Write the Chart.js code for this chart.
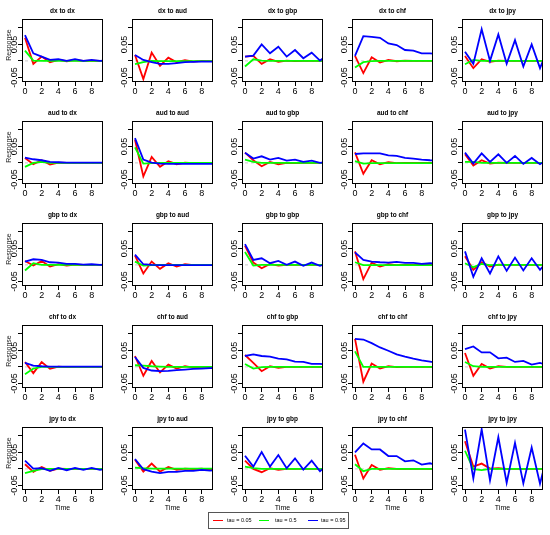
<!DOCTYPE html>
<html lang="en">
<head>
    <meta charset="UTF-8">
    <title>Quantile IRF grid</title>
    <script src="https://cdn.jsdelivr.net/npm/chart.js"></script>
    <style type="text/css">
        body {
            margin: 0;
            background: #fff;
            font-family: "Liberation Sans", Arial, sans-serif;
        }

        #page {
            position: relative;
            width: 550px;
            height: 535px;
            overflow: hidden;
        }

        canvas {
            position: absolute;
        }

        .ttl, .lab {
            position: absolute;
            transform: translate(-50%, -50%);
            white-space: nowrap;
            color: #000;
        }

        .ttl {
            font-weight: bold;
            font-size: 6.5px;
        }

        .lab {
            font-size: 7px;
        }

        .ylab {
            transform: translate(-50%, -50%) rotate(-90deg);
            font-size: 7px;
            color: #222;
        }

        #legend {
            position: absolute;
            left: 208px;
            top: 512px;
            width: 139px;
            height: 15px;
            border: 1px solid #555;
            font-size: 5.5px;
            line-height: 15px;
        }

        #legend span {
            position: absolute;
        }

        #legend .ln {
            top: 7px;
            width: 10px;
            height: 1px;
        }
    </style>
</head>
<body>
<div id="page"></div>

<script>
  // variables, in the order of the grid (rows = shock, columns = response)
  var vars = ['dx', 'aud', 'gbp', 'chf', 'jpy'];
  var periods = [0, 1, 2, 3, 4, 5, 6, 7, 8, 9, 10];
  var tauLabels = ['tau = 0.05', 'tau = 0.5', 'tau = 0.95'];
  var tauColors = ['#ff0000', '#00ff00', '#0000ff'];

  var yTicks = [-0.05, 0, 0.05, 0.1];
  var yTickLabels = ['-0.05', '', '0.05', ''];
  var xTicks = [0, 2, 4, 6, 8];

  // tau = 0.05, one row per panel (row-major)
  var tau05 = [
    [0.070, -0.009, 0.013, -0.004, 0.003, -0.001, 0.002, 0.000, 0.001, 0.000, 0.000], // dx to dx
    [0.018, -0.055, 0.025, -0.015, 0.010, -0.004, 0.002, -0.002, 0.000, -0.001, 0.000], // dx to aud
    [0.013, 0.015, -0.009, 0.005, -0.003, 0.001, -0.001, 0.000, 0.000, 0.000, 0.000], // dx to gbp
    [0.015, -0.037, 0.011, -0.005, 0.003, -0.001, 0.001, 0.000, 0.000, 0.000, 0.000], // dx to chf
    [0.015, -0.022, 0.005, -0.003, 0.001, 0.000, 0.000, 0.000, 0.000, 0.000, 0.000], // dx to jpy
    [0.015, -0.004, 0.008, -0.005, 0.001, 0.000, 0.000, 0.000, 0.000, 0.000, 0.000], // aud to dx
    [0.070, -0.041, 0.018, -0.012, 0.005, -0.004, 0.001, -0.001, 0.000, 0.000, 0.000], // aud to aud
    [0.031, 0.008, -0.010, 0.003, -0.004, 0.000, -0.001, 0.000, 0.000, 0.000, 0.000], // aud to gbp
    [0.032, -0.033, 0.008, -0.004, 0.002, -0.001, 0.000, 0.000, 0.000, 0.000, 0.000], // aud to chf
    [0.026, -0.008, 0.008, -0.002, 0.001, 0.000, 0.000, 0.000, 0.000, 0.000, 0.000], // aud to jpy
    [0.012, -0.002, 0.012, -0.005, 0.002, -0.002, 0.001, 0.000, 0.000, 0.000, 0.000], // gbp to dx
    [0.028, -0.026, 0.010, -0.012, 0.005, -0.005, 0.002, -0.001, 0.000, 0.000, 0.000], // gbp to aud
    [0.058, 0.007, -0.010, 0.003, -0.002, 0.000, 0.000, 0.000, 0.000, 0.000, 0.000], // gbp to gbp
    [0.041, -0.043, 0.007, -0.005, 0.002, -0.001, 0.000, 0.000, 0.000, 0.000, 0.000], // gbp to chf
    [0.026, -0.015, 0.008, -0.005, 0.001, 0.000, 0.000, 0.000, 0.000, 0.000, 0.000], // gbp to jpy
    [0.015, -0.019, 0.015, -0.006, 0.001, -0.001, 0.000, 0.000, 0.000, 0.000, 0.000], // chf to dx
    [0.033, -0.027, 0.018, -0.017, 0.007, -0.005, 0.002, -0.002, 0.000, 0.000, 0.000], // chf to aud
    [0.036, 0.012, -0.013, 0.002, -0.003, 0.000, 0.000, 0.000, 0.000, 0.000, 0.000], // chf to gbp
    [0.085, -0.045, 0.010, -0.005, 0.002, -0.001, 0.000, 0.000, 0.000, 0.000, 0.000], // chf to chf
    [0.042, -0.027, 0.009, -0.005, 0.002, 0.000, 0.000, 0.000, 0.000, 0.000, 0.000], // chf to jpy
    [0.014, -0.009, 0.006, -0.006, 0.001, 0.000, 0.000, 0.000, 0.000, 0.000, 0.000], // jpy to dx
    [0.028, -0.008, 0.016, -0.008, 0.006, -0.003, 0.001, -0.001, 0.001, -0.002, -0.001], // jpy to aud
    [0.025, 0.000, -0.010, 0.002, -0.003, 0.000, 0.000, 0.000, 0.000, 0.000, 0.000], // jpy to gbp
    [0.043, -0.029, 0.012, -0.003, 0.002, 0.000, 0.000, 0.000, 0.000, 0.000, 0.000], // jpy to chf
    [0.084, 0.007, 0.016, 0.001, 0.002, 0.000, 0.000, 0.000, 0.000, 0.000, 0.000]  // jpy to jpy
  ];

  // tau = 0.5
  var tau50 = [
    [0.031, 0.001, 0.000, 0.000, 0.000, 0.000, 0.000, 0.000, 0.000, 0.000, 0.000],
    [-0.010, -0.004, 0.000, -0.001, -0.001, -0.001, -0.001, -0.001, -0.001, -0.001, -0.001],
    [-0.017, 0.005, 0.001, 0.000, 0.000, 0.000, 0.000, 0.000, 0.000, 0.000, 0.000],
    [-0.020, -0.004, -0.001, 0.000, 0.000, 0.000, 0.000, 0.000, 0.000, 0.000, 0.000],
    [-0.010, 0.003, 0.000, 0.000, 0.000, 0.000, 0.000, 0.000, 0.000, 0.000, 0.000],
    [-0.012, 0.000, 0.003, 0.000, 0.000, 0.000, 0.000, 0.000, 0.000, 0.000, 0.000],
    [0.047, -0.002, -0.001, 0.000, 0.000, 0.000, 0.000, 0.000, 0.000, 0.000, 0.000],
    [0.010, 0.003, 0.000, 0.000, 0.000, 0.000, 0.000, 0.000, 0.000, 0.000, 0.000],
    [0.005, -0.002, -0.001, -0.001, -0.001, -0.001, -0.001, -0.001, -0.001, -0.001, -0.001],
    [0.003, 0.003, 0.000, 0.000, 0.000, 0.000, 0.000, 0.000, 0.000, 0.000, 0.000],
    [-0.017, 0.005, 0.000, 0.000, 0.000, 0.000, 0.000, 0.000, 0.000, 0.000, 0.000],
    [0.010, -0.002, -0.001, 0.000, 0.000, 0.000, 0.000, 0.000, 0.000, 0.000, 0.000],
    [0.039, -0.002, 0.000, 0.000, 0.000, 0.000, 0.000, 0.000, 0.000, 0.000, 0.000],
    [0.008, -0.001, -0.001, -0.001, -0.001, -0.001, -0.001, -0.001, -0.001, -0.001, -0.001],
    [0.005, -0.007, 0.003, -0.001, 0.000, 0.000, 0.000, 0.000, 0.000, 0.000, 0.000],
    [-0.022, -0.005, 0.000, 0.000, 0.000, 0.000, 0.000, 0.000, 0.000, 0.000, 0.000],
    [0.005, 0.004, 0.002, 0.001, 0.000, 0.000, 0.000, 0.000, 0.000, 0.000, 0.000],
    [0.009, -0.005, -0.001, 0.000, 0.000, 0.000, 0.000, 0.000, 0.000, 0.000, 0.000],
    [0.047, 0.000, 0.000, 0.000, 0.000, 0.000, 0.000, 0.000, 0.000, 0.000, 0.000],
    [0.015, 0.002, 0.000, 0.000, 0.000, 0.000, 0.000, 0.000, 0.000, 0.000, 0.000],
    [-0.013, -0.006, -0.001, 0.000, 0.000, 0.000, 0.000, 0.000, 0.000, 0.000, 0.000],
    [0.004, 0.002, 0.001, 0.001, 0.001, 0.001, 0.001, 0.001, 0.001, 0.001, 0.001],
    [0.007, 0.002, 0.000, 0.000, 0.000, 0.000, 0.000, 0.000, 0.000, 0.000, 0.000],
    [0.014, -0.007, 0.000, 0.000, 0.000, 0.000, 0.000, 0.000, 0.000, 0.000, 0.000],
    [0.055, -0.001, -0.004, 0.000, 0.000, 0.000, 0.000, 0.000, 0.000, 0.000, 0.000]
  ];

  // tau = 0.95
  var tau95 = [
    [0.078, 0.023, 0.013, 0.003, 0.005, 0.000, 0.005, 0.000, 0.003, 0.000, 0.002],
    [0.018, 0.003, -0.004, -0.009, -0.009, -0.007, -0.004, -0.003, -0.002, -0.002, -0.002],
    [0.013, 0.016, 0.050, 0.023, 0.043, 0.013, 0.033, 0.008, 0.025, 0.001, 0.020],
    [0.015, 0.075, 0.073, 0.070, 0.053, 0.048, 0.033, 0.031, 0.023, 0.023, 0.020],
    [0.028, -0.009, 0.096, 0.000, 0.080, -0.009, 0.063, -0.017, 0.050, -0.022, 0.040],
    [0.016, 0.011, 0.008, 0.003, 0.002, 0.001, 0.001, 0.001, 0.001, 0.001, 0.001],
    [0.075, 0.010, 0.001, -0.002, -0.003, -0.003, -0.003, -0.003, -0.003, -0.003, -0.003],
    [0.031, 0.013, 0.020, 0.010, 0.015, 0.007, 0.010, 0.003, 0.007, 0.000, 0.004],
    [0.027, 0.029, 0.029, 0.029, 0.023, 0.021, 0.015, 0.013, 0.010, 0.008, 0.007],
    [0.031, -0.002, 0.029, 0.003, 0.026, 0.000, 0.021, -0.003, 0.015, -0.004, 0.012],
    [0.010, 0.017, 0.015, 0.008, 0.007, 0.003, 0.003, 0.001, 0.002, 0.000, 0.001],
    [0.031, 0.002, 0.000, -0.001, -0.001, -0.001, -0.001, -0.001, -0.001, -0.001, -0.001],
    [0.063, 0.015, 0.020, 0.005, 0.012, 0.000, 0.010, -0.003, 0.007, -0.003, 0.005],
    [0.038, 0.015, 0.010, 0.008, 0.007, 0.009, 0.006, 0.006, 0.003, 0.005, 0.004],
    [0.041, -0.036, 0.020, -0.026, 0.026, -0.018, 0.022, -0.017, 0.020, -0.015, 0.015],
    [0.012, 0.004, 0.002, 0.001, 0.001, 0.001, 0.001, 0.001, 0.001, 0.001, 0.001],
    [0.030, -0.003, -0.011, -0.013, -0.012, -0.010, -0.008, -0.006, -0.005, -0.004, -0.004],
    [0.033, 0.038, 0.033, 0.031, 0.025, 0.023, 0.016, 0.015, 0.009, 0.009, 0.008],
    [0.085, 0.083, 0.072, 0.059, 0.049, 0.038, 0.031, 0.025, 0.020, 0.016, 0.011],
    [0.054, 0.062, 0.044, 0.044, 0.026, 0.028, 0.015, 0.018, 0.007, 0.012, 0.004],
    [0.025, 0.001, 0.002, -0.006, 0.003, -0.004, 0.003, -0.003, 0.003, -0.003, 0.001],
    [0.030, -0.001, -0.008, -0.013, -0.009, -0.009, -0.006, -0.006, -0.003, -0.005, -0.004],
    [0.040, 0.007, 0.051, 0.007, 0.042, 0.002, 0.032, -0.002, 0.025, -0.007, 0.015],
    [0.050, 0.077, 0.059, 0.059, 0.039, 0.039, 0.023, 0.026, 0.013, 0.017, 0.010],
    [0.119, -0.029, 0.120, -0.035, 0.096, -0.042, 0.079, -0.044, 0.065, -0.045, 0.055]
  ];

  var page = document.getElementById('page');

  // black box round every plot region, like R's box()
  var boxPlugin = {
    id: 'box',
    afterDraw: function (chart) {
      var a = chart.chartArea;
      var ctx = chart.ctx;
      ctx.save();
      ctx.strokeStyle = '#000';
      ctx.lineWidth = 1;
      ctx.strokeRect(a.left + 0.5, a.top + 0.5, a.right - a.left - 1, a.bottom - a.top - 1);
      ctx.restore();
    }
  };

  function addText(cls, text, x, y) {
    var d = document.createElement('div');
    d.className = cls;
    d.textContent = text;
    d.style.left = x + 'px';
    d.style.top = y + 'px';
    page.appendChild(d);
  }

  function lineSet(label, values, color, order) {
    return {
      label: label,
      data: values,
      borderColor: color,
      borderWidth: 1.8,
      pointRadius: 0,
      tension: 0,
      order: order
    };
  }

  function makePanel(row, col) {
    var idx = row * 5 + col;
    var left = col * 110;
    var boxTop = 19 + row * 102;

    var canvas = document.createElement('canvas');
    canvas.width = 110;
    canvas.height = 89;
    canvas.style.left = left + 'px';
    canvas.style.top = (boxTop - 6) + 'px';
    page.appendChild(canvas);

    addText('ttl', vars[row] + ' to ' + vars[col], left + 62.5, boxTop - 9);
    if (col === 0) {
      addText('lab ylab', 'Response', 8, boxTop + 26);
    }
    if (row === 4) {
      addText('lab', 'Time', left + 62.5, boxTop + 80);
    }

    new Chart(canvas, {
      type: 'line',
      data: {
        labels: periods,
        datasets: [
          lineSet(tauLabels[2], tau95[idx], tauColors[2], 0),
          lineSet(tauLabels[1], tau50[idx], tauColors[1], 1),
          lineSet(tauLabels[0], tau05[idx], tauColors[0], 2),
          {
            label: 'zero',
            data: periods.map(function () { return 0; }),
            borderColor: '#c8c8c8',
            borderWidth: 1,
            borderDash: [3, 3],
            pointRadius: 0,
            order: 3
          }
        ]
      },
      options: {
        responsive: false,
        animation: false,
        events: [],
        layout: {padding: {top: 6, right: 7, bottom: 0, left: 0}},
        plugins: {legend: {display: false}, tooltip: {enabled: false}},
        scales: {
          x: {
            type: 'linear',
            min: -0.36,
            max: 9.36,
            afterBuildTicks: function (s) {
              s.ticks = xTicks.map(function (v) { return {value: v}; });
            },
            afterFit: function (s) {
              s.height = 20;
              s.paddingLeft = 0;
              s.paddingRight = 0;
            },
            border: {display: false},
            grid: {drawOnChartArea: false, tickLength: 4, color: '#000'},
            ticks: {
              color: '#000',
              padding: 0,
              maxRotation: 0,
              autoSkip: false,
              font: {family: 'Liberation Sans', size: 9}
            }
          },
          y: {
            min: -0.064,
            max: 0.127,
            afterBuildTicks: function (s) {
              s.ticks = yTicks.map(function (v) { return {value: v}; });
            },
            afterFit: function (s) {
              s.width = 22;
              s.paddingTop = 0;
              s.paddingBottom = 0;
            },
            border: {display: false},
            grid: {drawOnChartArea: false, tickLength: 4, color: '#000'},
            ticks: {
              color: '#000',
              padding: -7,
              minRotation: 90,
              maxRotation: 90,
              crossAlign: 'center',
              autoSkip: false,
              font: {family: 'Liberation Sans', size: 9},
              callback: function (v) {
                var i = yTicks.indexOf(v);
                return i >= 0 ? yTickLabels[i] : '';
              }
            }
          }
        }
      },
      plugins: [boxPlugin]
    });
  }

  for (var r = 0; r < 5; r++) {
    for (var c = 0; c < 5; c++) {
      makePanel(r, c);
    }
  }

  // legend under the grid
  var legend = document.createElement('div');
  legend.id = 'legend';
  var legendPos = [[4, 18], [50, 66], [99, 112]];
  for (var k = 0; k < 3; k++) {
    var ln = document.createElement('span');
    ln.className = 'ln';
    ln.style.left = legendPos[k][0] + 'px';
    ln.style.background = tauColors[k];
    legend.appendChild(ln);
    var tx = document.createElement('span');
    tx.textContent = tauLabels[k];
    tx.style.left = legendPos[k][1] + 'px';
    legend.appendChild(tx);
  }
  page.appendChild(legend);
</script>
</body>
</html>
